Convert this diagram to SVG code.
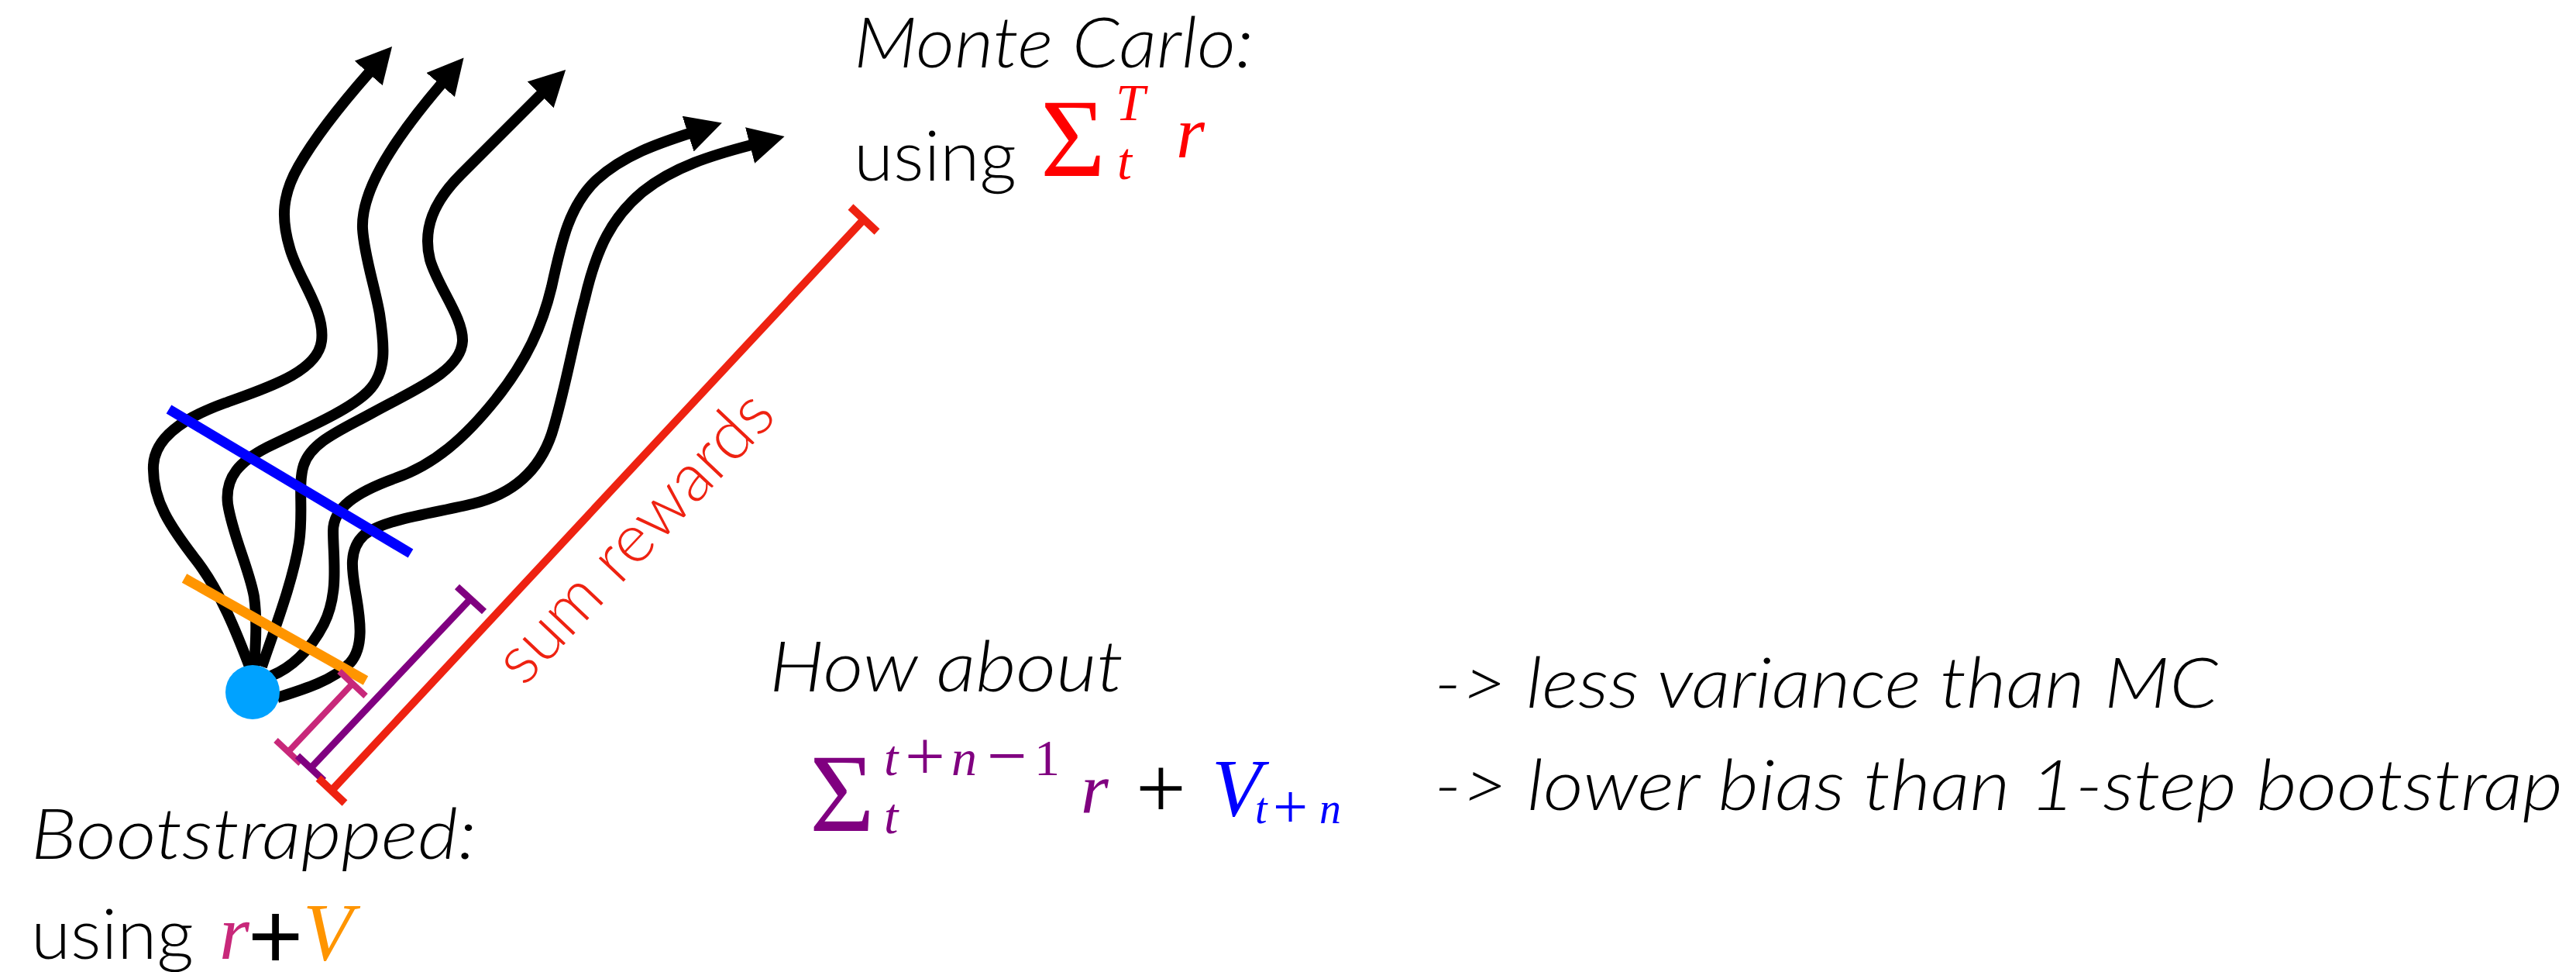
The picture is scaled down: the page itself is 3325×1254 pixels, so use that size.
<svg xmlns="http://www.w3.org/2000/svg" width="3325" height="1254" viewBox="0 0 3325 1254">
<style>
.txt{font-family:Lato,"Open Sans","Liberation Sans",sans-serif;font-weight:300;font-size:90px;fill:#000}
.it{font-style:italic}
.math{font-family:"Liberation Serif","DejaVu Serif",serif;font-style:italic}
.op{font-family:"Liberation Serif","DejaVu Serif",serif;font-style:normal}
.curve{fill:none;stroke:#000;stroke-width:14;stroke-linecap:butt;stroke-linejoin:round;marker-end:url(#ah)}
.bar{fill:none;stroke-linecap:butt}
</style>
<defs>
<marker id="ah" markerUnits="userSpaceOnUse" markerWidth="50" markerHeight="50" viewBox="0 0 50 50" refX="2" refY="24" orient="auto">
<path d="M0,0 L46,24 L0,48 Z" fill="#000"/>
</marker>
</defs>
<rect width="3325" height="1254" fill="#fff"/>

<g id="connectors">
<path id="traj1" class="curve" d="M324,865 C305,815 285,765 255,725 C220,680 196,645 198,600 C200,565 235,540 290,520 C345,500 410,480 415,440 C420,400 385,360 374,320 C362,280 365,250 385,215 C405,180 440,135 477,93"/>
<path id="traj2" class="curve" d="M328,862 C330,830 332,800 328,770 C322,735 300,690 294,650 C290,615 310,595 345,577 C390,555 450,530 475,505 C500,480 496,445 490,405 C484,370 470,330 468,295 C466,250 500,190 570,108"/>
<path id="traj3" class="curve" d="M338,860 C355,810 378,750 386,700 C392,660 384,625 392,600 C402,570 440,555 480,533 C530,505 595,480 597,440 C598,410 565,370 555,335 C545,295 560,260 595,225 C630,190 665,155 699,121"/>
<path id="traj4" class="curve" d="M350,872 C375,862 400,840 418,805 C438,765 430,720 430,685 C430,655 460,635 510,617 C560,600 600,565 640,515 C680,465 700,420 712,370 C725,310 735,265 770,232 C805,200 850,185 890,172"/>
<path id="traj5" class="curve" d="M358,900 C390,890 430,878 452,855 C470,835 465,800 460,770 C455,740 448,710 470,690 C495,670 560,662 610,650 C660,638 695,610 712,560 C728,510 740,440 755,385 C770,320 790,280 830,247 C870,215 920,200 970,187"/>
</g>

<g id="start-state">
<circle cx="326" cy="893" r="35" fill="#00A2FF"/>
</g>

<g id="cut-orange">
<line class="bar" x1="238" y1="746" x2="472" y2="878" stroke="#FF9500" stroke-width="13"/>
</g>
<g id="cut-blue">
<line class="bar" x1="218" y1="528" x2="530" y2="714" stroke="#0000FF" stroke-width="13"/>
</g>

<g id="bracket-1step" stroke="#C8287A" stroke-width="8" class="bar">
<line x1="455" y1="882" x2="372" y2="970"/>
<line x1="438" y1="866" x2="472" y2="898"/>
<line x1="356" y1="955" x2="388" y2="985"/>
</g>
<g id="bracket-nstep" stroke="#800080" stroke-width="9" class="bar">
<line x1="607" y1="773" x2="401" y2="991"/>
<line x1="590" y1="757" x2="625" y2="789"/>
<line x1="384" y1="975" x2="418" y2="1007"/>
</g>
<g id="bracket-mc" stroke="#EE2211" stroke-width="10" class="bar">
<line x1="1115" y1="283" x2="428" y2="1020"/>
<line x1="1098" y1="267" x2="1132" y2="299"/>
<line x1="411" y1="1004" x2="445" y2="1036"/>
</g>

<g id="label-sum-rewards">
<text class="txt" style="font-style:normal;font-size:88px;fill:#EE2211" transform="translate(676,887) rotate(-46.7)">sum rewards</text>
</g>

<g id="label-mc">
<text class="txt it" x="1102" y="87" textLength="516" lengthAdjust="spacingAndGlyphs">Monte Carlo:</text>
<text class="txt" x="1102" y="233" textLength="210" lengthAdjust="spacingAndGlyphs">using</text>
<text class="op" x="1343" y="227" font-size="144" fill="#FF0000">Σ</text>
<text class="math" x="1440" y="155" font-size="68" fill="#FF0000">T</text>
<text class="math" x="1442" y="231" font-size="68" fill="#FF0000">t</text>
<text class="math" x="1518" y="203" font-size="95" fill="#FF0000">r</text>
</g>

<g id="label-bootstrap">
<text class="txt it" x="40" y="1108" textLength="575" lengthAdjust="spacingAndGlyphs">Bootstrapped:</text>
<text class="txt" x="40" y="1237" textLength="210" lengthAdjust="spacingAndGlyphs">using</text>
<text class="math" x="283" y="1237" font-size="100" fill="#C8287A">r</text>
<text x="320" y="1250" font-family="Liberation Sans, Arial, sans-serif" font-size="122" fill="#000">+</text>
<text class="math" x="391" y="1238" font-size="105" fill="#FF9500">V</text>
</g>

<g id="label-nstep">
<text class="txt it" x="993" y="892" textLength="457" lengthAdjust="spacingAndGlyphs">How about</text>
<text class="op" x="1045" y="1072" font-size="144" fill="#800080">Σ</text>
<g fill="#800080">
<text class="math" x="1141" y="1000" font-size="66">t</text>
<text class="op" x="1168" y="1006" font-size="92">+</text>
<text class="math" x="1228" y="1000" font-size="66">n</text>
<text class="op" x="1274" y="1006" font-size="92">−</text>
<text class="op" x="1335" y="1000" font-size="66">1</text>
<text class="math" x="1141" y="1075" font-size="66">t</text>
<text class="math" x="1395" y="1048" font-size="92">r</text>
</g>
<text class="op" x="1466" y="1055" font-size="115">+</text>
<g fill="#0000FF">
<text class="math" x="1564" y="1052" font-size="105">V</text>
<text class="math" x="1620" y="1062" font-size="56">t</text>
<text class="op" x="1643" y="1068" font-size="80">+</text>
<text class="math" x="1703" y="1062" font-size="56">n</text>
</g>
</g>

<g id="label-benefits">
<text class="txt it" x="1851" y="913" textLength="1012" lengthAdjust="spacingAndGlyphs">-&gt; less variance than MC</text>
<text class="txt it" x="1851" y="1045" textLength="1457" lengthAdjust="spacingAndGlyphs">-&gt; lower bias than 1-step bootstrap</text>
</g>
</svg>
